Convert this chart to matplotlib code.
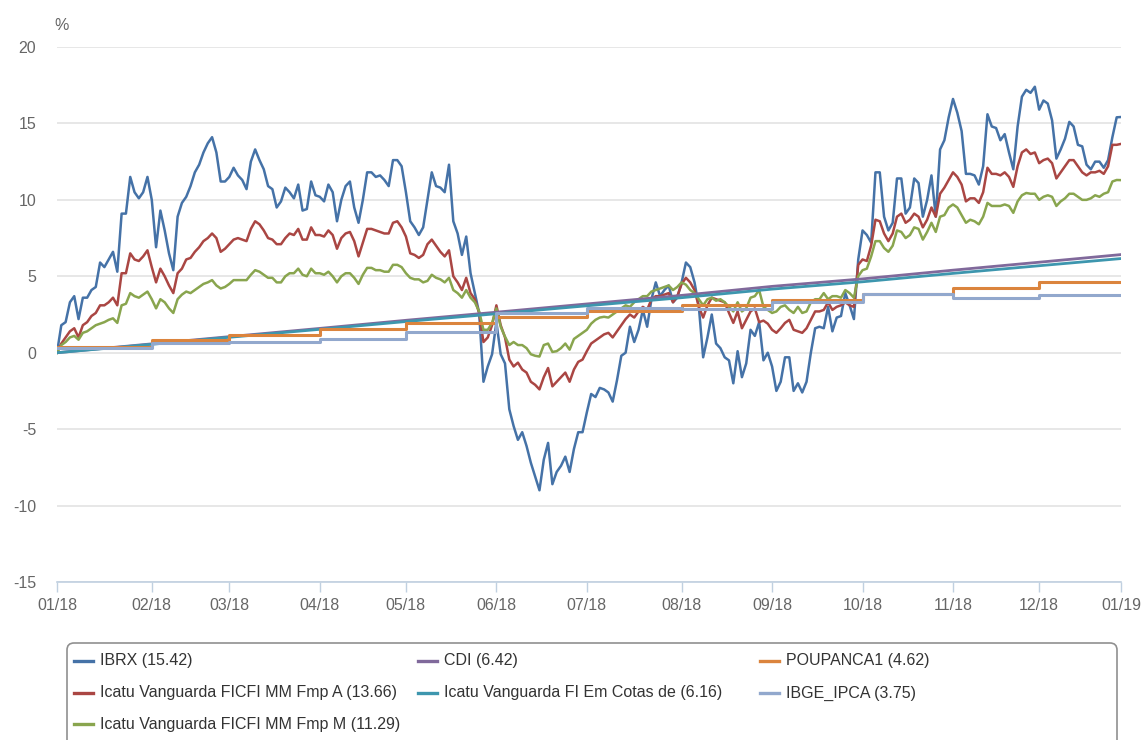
# --------------------------------------------------------
# Rentabilidade acumulada 2018 - fundos x indicadores (%)
# --------------------------------------------------------
import numpy as np
import matplotlib.pyplot as plt
from matplotlib.lines import Line2D
from matplotlib.patches import FancyBboxPatch
from matplotlib.transforms import IdentityTransform

plt.rcParams['font.family'] = ['Liberation Sans', 'DejaVu Sans']
plt.rcParams['axes.unicode_minus'] = False

# ---------------------------------------------
# Dados (pregões de 01/18 a 01/19)
# ---------------------------------------------
ibrx = [
    0.0, 1.8, 2.0, 3.3, 3.7, 2.2, 3.6, 3.6, 4.1, 4.3,
    5.9, 5.6, 6.1, 6.6, 5.3, 9.1, 9.1, 11.5, 10.5, 10.1,
    10.5, 11.5, 10.0, 6.9, 9.3, 8.0, 6.5, 5.4, 8.9, 9.8,
    10.2, 10.9, 11.8, 12.3, 13.1, 13.7, 14.1, 13.1, 11.2, 11.2,
    11.5, 12.1, 11.6, 11.3, 10.7, 12.5, 13.3, 12.6, 12.0, 10.9,
    10.7, 9.5, 9.9, 10.8, 10.5, 10.1, 11.0, 9.3, 9.4, 11.2,
    10.3, 10.2, 9.9, 11.0, 10.5, 8.6, 10.0, 10.9, 11.2, 9.5,
    8.5, 10.0, 11.8, 11.8, 11.5, 11.6, 11.3, 10.9, 12.6, 12.6,
    12.2, 10.5, 8.6, 8.2, 7.7, 8.2, 10.0, 11.8, 10.9, 10.8,
    10.5, 12.3, 8.6, 7.8, 6.4, 7.6, 5.2, 3.9, 2.6, -1.9,
    -0.9, -0.1, 2.0, -0.1, -0.7, -3.7, -4.8, -5.7, -5.2, -6.1,
    -7.2, -8.1, -9.0, -7.0, -5.9, -8.6, -7.8, -7.4, -6.8, -7.8,
    -6.3, -5.2, -5.2, -3.9, -2.7, -2.9, -2.3, -2.4, -2.6, -3.2,
    -1.8, -0.2, 0.0, 1.7, 0.7, 1.5, 2.8, 1.7, 3.5, 4.6,
    3.7, 4.1, 4.4, 3.3, 3.6, 4.6, 5.9, 5.6, 4.6, 3.0,
    -0.3, 1.0, 2.5, 0.6, 0.3, -0.3, -0.5, -2.0, 0.1, -1.6,
    -0.7, 1.5, 1.1, 2.0, -0.5, 0.0, -0.9,
    -2.5, -1.9, -0.3, -0.3, -2.5, -2.0, -2.6, -1.9, 0.0, 1.6,
    1.7, 1.6, 3.0, 1.4, 2.3, 2.4, 3.9, 3.1, 2.2, 6.1,
    8.0, 7.7, 7.2, 11.8, 11.8, 8.9, 8.0, 8.5, 11.4, 11.4,
    9.1, 9.5, 11.4, 11.1,
    8.9, 10.0, 11.6, 8.9, 13.3, 13.9, 15.4, 16.6, 15.7, 14.5,
    11.7, 11.7, 11.6, 11.0, 12.2, 15.6, 14.8, 14.7, 13.9, 14.3,
    13.1, 12.0, 14.8, 16.75, 17.2, 17.0, 17.4, 15.9, 16.5, 16.3,
    15.2, 12.7, 13.3, 14.0, 15.1, 14.8, 13.6, 13.5, 12.3, 12.0,
    12.5, 12.5, 12.1, 12.6, 14.1, 15.4, 15.42,
]

fmp_a = [
    0.0, 0.6, 1.0, 1.4, 1.6, 1.0, 1.8, 2.0, 2.4, 2.6,
    3.1, 3.1, 3.3, 3.6, 3.1, 5.2, 5.2, 6.5, 6.1, 6.0,
    6.3, 6.7, 5.6, 4.6, 5.5, 5.0, 4.4, 3.9, 5.2, 5.5,
    6.1, 6.2, 6.6, 6.9, 7.3, 7.5, 7.8, 7.5, 6.6, 6.8,
    7.1, 7.4, 7.5, 7.4, 7.3, 8.1, 8.6, 8.4, 8.0, 7.5,
    7.4, 7.1, 7.1, 7.5, 7.8, 7.7, 8.1, 7.4, 7.4, 8.2,
    7.7, 7.7, 7.6, 8.0, 7.7, 6.8, 7.5, 7.8, 7.9, 7.3,
    6.3, 7.2, 8.1, 8.1, 8.0, 7.9, 7.8, 7.8, 8.5, 8.6,
    8.2, 7.6, 6.5, 6.4, 6.2, 6.4, 7.1, 7.4, 7.0, 6.6,
    6.3, 6.7, 5.0, 4.6, 4.1, 4.9, 3.9, 3.5, 2.6, 0.7,
    1.0, 1.8, 3.1, 1.8, 1.0, -0.45, -0.9, -0.65, -1.1, -1.3,
    -1.9, -2.1, -2.4, -1.6, -1.0, -2.2, -1.9, -1.6, -1.3, -1.9,
    -1.1, -0.6, -0.45, 0.1, 0.6, 0.8, 1.0, 1.2, 1.3, 1.0,
    1.4, 1.8, 2.2, 2.5, 2.3, 2.7, 3.0, 2.8, 3.5, 3.7,
    3.7, 3.8, 3.9, 3.3, 3.7, 4.5, 4.9, 4.6, 4.1, 3.0,
    2.3, 3.1, 3.6, 3.5, 3.4, 3.3, 2.6, 1.95, 2.7, 1.6,
    2.15, 2.7, 2.9, 2.0, 2.1, 1.9, 1.5,
    1.3, 1.6, 1.95, 2.15, 1.5, 1.4, 1.3, 1.6, 2.15, 2.7,
    2.7, 2.8, 3.3, 2.8, 3.0, 3.1, 3.3, 3.1, 3.0, 5.75,
    6.1, 6.0, 7.0, 8.7, 8.6, 7.8, 7.3, 7.8, 8.9, 9.1,
    8.5, 8.7, 9.1, 8.9,
    8.2, 8.7, 9.5, 8.9, 10.4, 10.8, 11.3, 11.8, 11.5, 11.0,
    9.9, 10.1, 10.1, 9.8, 10.5, 12.1, 11.7, 11.7, 11.6, 11.8,
    11.5, 10.85, 12.2, 13.1, 13.3, 13.0, 13.1, 12.4, 12.6, 12.7,
    12.4, 11.4, 11.8, 12.2, 12.6, 12.6, 12.2, 11.8, 11.6, 11.8,
    11.8, 11.9, 11.7, 12.2, 13.6, 13.6, 13.66,
]

fmp_m = [
    0.0, 0.5, 0.7, 1.0, 1.1, 0.85, 1.3, 1.4, 1.6, 1.8,
    1.9, 2.0, 2.15, 2.25, 1.95, 3.1, 3.2, 3.9, 3.7, 3.6,
    3.8, 4.0, 3.5, 2.9, 3.5, 3.3, 2.9, 2.6, 3.5, 3.8,
    4.0, 3.9, 4.1, 4.3, 4.5, 4.6, 4.75, 4.4, 4.2, 4.3,
    4.5, 4.75, 4.75, 4.75, 4.75, 5.1, 5.4, 5.3, 5.1, 4.9,
    4.9, 4.6, 4.6, 5.0, 5.2, 5.2, 5.5, 5.1, 5.0, 5.5,
    5.2, 5.2, 5.1, 5.3, 5.0, 4.6, 5.0, 5.2, 5.2, 4.9,
    4.5, 5.1, 5.55, 5.55, 5.4, 5.4, 5.3, 5.3, 5.75, 5.75,
    5.6, 5.2, 4.9, 4.8, 4.8, 4.6, 4.7, 5.1, 4.9, 4.8,
    4.6, 4.9, 4.1, 3.9, 3.6, 4.1, 3.6, 3.3, 2.7, 1.5,
    1.5, 1.95, 2.9, 1.7, 1.05, 0.5, 0.7, 0.5, 0.5, 0.3,
    -0.1, -0.2, -0.25, 0.5, 0.6, 0.05, 0.1, 0.3, 0.6, 0.2,
    0.9, 1.1, 1.3, 1.5, 1.9, 2.15, 2.3, 2.35, 2.3, 2.5,
    2.7, 2.9, 3.1, 3.0, 3.3, 3.5, 3.7, 3.7, 4.0, 4.1,
    4.2, 4.3, 4.4, 4.1, 4.3, 4.6, 4.45, 4.1, 3.9, 3.5,
    3.1, 3.5, 3.6, 3.4, 3.5, 3.3, 3.0, 2.7, 3.3, 2.7,
    2.9, 3.6, 3.7, 4.1, 3.0, 2.8, 2.6,
    2.7, 3.0, 3.1, 2.8, 2.6, 3.0, 2.6, 2.7, 3.3, 3.5,
    3.5, 3.9, 3.5, 3.7, 3.7, 3.6, 4.1, 3.9, 3.6, 5.0,
    5.4, 5.5, 6.3, 7.3, 7.3, 6.85, 6.6, 7.0, 8.0, 7.9,
    7.5, 7.7, 8.2, 8.1,
    7.4, 7.9, 8.5, 7.9, 8.9, 9.0, 9.5, 9.7, 9.5, 9.0,
    8.5, 8.7, 8.6, 8.4, 8.9, 9.8, 9.6, 9.6, 9.6, 9.7,
    9.6, 9.15, 9.9, 10.3, 10.45, 10.4, 10.4, 10.0, 10.2, 10.3,
    10.2, 9.6, 9.9, 10.1, 10.4, 10.4, 10.2, 10.0, 10.0, 10.1,
    10.3, 10.2, 10.4, 10.5, 11.2, 11.3, 11.29,
]

# virada de mês (índice do pregão) e rótulos
meses_pos = [0, 22, 40, 61, 81, 102, 123, 145, 166, 187, 208, 228, 247]
meses_txt = ['01/18', '02/18', '03/18', '04/18', '05/18', '06/18', '07/18',
             '08/18', '09/18', '10/18', '11/18', '12/18', '01/19']

# acumulado no fim de cada mês
cdi = [0.0, 0.58, 1.05, 1.59, 2.12, 2.65, 3.19, 3.75, 4.34, 4.83, 5.40, 5.92, 6.42]
fi_cotas = [0.0, 0.55, 1.01, 1.53, 2.04, 2.55, 3.07, 3.60, 4.16, 4.64, 5.19, 5.69, 6.16]

# nível mensal (degraus)
poupanca = [0.40, 0.80, 1.18, 1.57, 1.95, 2.33, 2.71, 3.09, 3.47, 3.86, 4.24, 4.62]
ipca = [0.29, 0.61, 0.70, 0.92, 1.33, 2.60, 2.94, 2.85, 3.34, 3.81, 3.59, 3.75]

nomes = ['IBRX (15.42)', 'Icatu Vanguarda FICFI MM Fmp A (13.66)',
         'Icatu Vanguarda FICFI MM Fmp M (11.29)', 'CDI (6.42)',
         'Icatu Vanguarda FI Em Cotas de (6.16)', 'POUPANCA1 (4.62)',
         'IBGE_IPCA (3.75)']
cores = ['#4572A7', '#AA4643', '#89A54E', '#80699B', '#3D96AE', '#DB843D', '#92A8CD']

# ---------------------------------------------
# Gráfico
# ---------------------------------------------
W, H = 1147, 740
fig = plt.figure(figsize=(W / 100, H / 100), dpi=100)
ax = fig.add_axes([57 / W, 1 - 582 / H, 1064 / W, 535 / H])

dias = np.arange(len(ibrx))
ax.plot(dias, ibrx, color=cores[0], lw=1.8)
ax.plot(dias, fmp_a, color=cores[1], lw=1.8)
ax.plot(dias, fmp_m, color=cores[2], lw=1.8)
ax.plot(meses_pos, cdi, color=cores[3], lw=2.0)
ax.plot(meses_pos, fi_cotas, color=cores[4], lw=2.0)
ax.step(meses_pos, poupanca + [poupanca[-1]], where='post', color=cores[5], lw=2.2)
ax.step(meses_pos, ipca + [ipca[-1]], where='post', color=cores[6], lw=2.2)

ax.set_xlim(0, meses_pos[-1])
ax.set_ylim(-15, 20)
ax.set_yticks(range(-15, 21, 5))
ax.set_xticks(meses_pos)
ax.set_xticklabels(meses_txt)
ax.grid(axis='y', color='#E3E3E3', lw=1.2)
ax.set_axisbelow(True)
for s in ['top', 'right', 'left']:
    ax.spines[s].set_visible(False)
ax.spines['bottom'].set_color('#C0D0E0')
ax.spines['bottom'].set_linewidth(1.2)
ax.tick_params(axis='y', length=0, pad=15, labelcolor='#666666', labelsize=11.5)
ax.tick_params(axis='x', length=7.2, width=1, color='#C0D0E0', pad=4,
               labelcolor='#666666', labelsize=11.5)

fig.text(62 / W, 1 - 25 / H, '%', ha='center', va='center', color='#666666', size=11.5)

# ---------------------------------------------
# Legenda (3 colunas, cortada na base)
# ---------------------------------------------
caixa = FancyBboxPatch((67, -40), 1050, H - 643 + 40,
                       boxstyle='round,pad=0,rounding_size=7',
                       transform=IdentityTransform(), fill=False,
                       ec='#909090', lw=1.2)
fig.add_artist(caixa)

col_x = [74, 418, 760]
lin_y = [661, 693, 724]
posicoes = [(0, 0), (0, 1), (0, 2), (1, 0), (1, 1), (2, 0), (2, 1)]
for (c, r), nome, cor in zip(posicoes, nomes, cores):
    x0 = col_x[c]
    y0 = 1 - lin_y[r] / H
    fig.add_artist(Line2D([x0 / W, (x0 + 19) / W], [y0, y0], color=cor, lw=2.4,
                          transform=fig.transFigure))
    fig.text((x0 + 26) / W, y0, nome, ha='left', va='center', color='#333333', size=11.5)

fig.savefig('out.png', dpi=100)
